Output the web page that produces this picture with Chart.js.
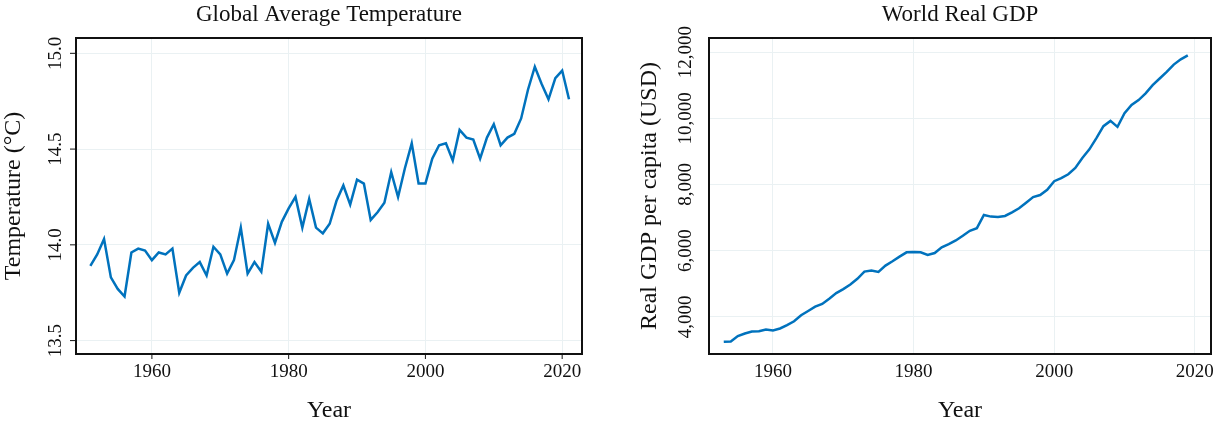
<!DOCTYPE html>
<html><head><meta charset="utf-8">
<script src="https://cdn.jsdelivr.net/npm/chart.js@4"></script>
<style>body{margin:0;background:#fff;width:1215px;height:423px;overflow:hidden;display:flex}
.c{position:relative;height:423px}</style></head><body>
<div class="c" style="width:607px"><canvas id="a"></canvas></div>
<div class="c" style="width:608px"><canvas id="b"></canvas></div>
<script>
const tempYears=[];for(let y=1951;y<=2021;y++)tempYears.push(y);
const tempValues=[13.89,13.95,14.03,13.83,13.77,13.73,13.96,13.98,13.97,13.92,13.96,13.95,13.98,13.75,13.84,13.88,13.91,13.84,13.99,13.95,13.85,13.92,14.09,13.85,13.91,13.86,14.11,14.01,14.12,14.19,14.25,14.09,14.24,14.09,14.06,14.11,14.23,14.31,14.21,14.34,14.32,14.13,14.17,14.22,14.38,14.25,14.40,14.53,14.32,14.32,14.45,14.52,14.53,14.44,14.60,14.56,14.55,14.45,14.56,14.63,14.52,14.56,14.58,14.66,14.81,14.93,14.84,14.76,14.87,14.91,14.76];
const gdpYears=[];for(let y=1953;y<=2019;y++)gdpYears.push(y);
const gdpValues=[3250,3260,3420,3500,3560,3570,3620,3590,3650,3750,3870,4050,4180,4310,4390,4550,4720,4840,4980,5150,5370,5400,5360,5550,5680,5820,5950,5960,5950,5870,5930,6100,6200,6310,6450,6600,6680,7080,7030,7020,7050,7160,7280,7450,7620,7680,7840,8100,8190,8310,8500,8800,9060,9400,9760,9920,9740,10150,10400,10550,10750,11000,11200,11400,11620,11780,11900];
const xTicks=[1960,1980,2000,2020];
const tempTicks=[13.5,14.0,14.5,15.0];
const gdpTicks=[4000,6000,8000,10000,12000];
const FONT='"Liberation Serif", serif';
function make(id,years,vals,cfg){
  const deco={id:'deco',afterDraw(ch){
    const c=ch.ctx,a=ch.chartArea,x=ch.scales.x,y=ch.scales.y;
    c.save();c.strokeStyle='#111';c.lineWidth=2;c.strokeRect(a.left,a.top,a.right-a.left,a.bottom-a.top);
    c.fillStyle='#111';c.font='23px '+FONT;c.textAlign='center';c.textBaseline='middle';
    c.fillText(cfg.title,(a.left+a.right)/2,15);
    c.font='24px '+FONT;
    c.fillText('Year',(a.left+a.right)/2,411);
    c.font='19px '+FONT;c.lineWidth=1;
    xTicks.forEach(t=>{const px=x.getPixelForValue(t);c.fillText(String(t),px,372);
      if(cfg.tickMarks){c.beginPath();c.moveTo(px,a.bottom);c.lineTo(px,a.bottom+5);c.stroke();}});
    cfg.yTicks.forEach(t=>{const py=y.getPixelForValue(t);
      c.save();c.translate(a.left-cfg.tickOff,py);c.rotate(-Math.PI/2);c.fillText(cfg.fmt(t),0,0);c.restore();
      if(cfg.tickMarks){c.beginPath();c.moveTo(a.left,py);c.lineTo(a.left-6,py);c.stroke();}});
    c.font='24px '+FONT;c.save();c.translate(cfg.titleX,(a.top+a.bottom)/2);c.rotate(-Math.PI/2);c.fillText(cfg.yTitle,0,0);c.restore();
    c.restore();}};
  new Chart(document.getElementById(id),{type:'line',
    data:{datasets:[{data:years.map((yr,i)=>({x:yr,y:vals[i]})),borderColor:'#0072bd',borderWidth:2.5,pointRadius:0,tension:0}]},
    options:{responsive:true,maintainAspectRatio:false,animation:false,
      layout:{padding:{left:0,right:cfg.right,top:38,bottom:0}},
      plugins:{legend:{display:false},tooltip:{enabled:false}},
      scales:{
        x:{type:'linear',min:cfg.xmin,max:cfg.xmax,afterBuildTicks:s=>{s.ticks=xTicks.map(v=>({value:v}))},
          grid:{color:'#eaf1f3',drawTicks:false},border:{display:false},ticks:{display:false},afterFit:s=>{s.height=69;}},
        y:{min:cfg.ymin,max:cfg.ymax,afterBuildTicks:s=>{s.ticks=cfg.yTicks.map(v=>({value:v}))},
          grid:{color:'#eaf1f3',drawTicks:false},border:{display:false},ticks:{display:false},afterFit:s=>{s.width=cfg.left;}}}},
    plugins:[deco]});
}
make('a',tempYears,tempValues,{title:'Global Average Temperature',yTitle:'Temperature (°C)',xmin:1948.9,xmax:2022.9,ymin:13.43,ymax:15.08,
  yTicks:tempTicks,fmt:t=>t.toFixed(1),left:76,right:25,tickOff:20,titleX:14,tickMarks:true});
make('b',gdpYears,gdpValues,{title:'World Real GDP',yTitle:'Real GDP per capita (USD)',xmin:1950.9,xmax:2022.3,ymin:2880,ymax:12424,
  yTicks:gdpTicks,fmt:t=>t.toLocaleString('en-US'),left:102,right:4,tickOff:23,titleX:43,tickMarks:false});
</script></body></html>
